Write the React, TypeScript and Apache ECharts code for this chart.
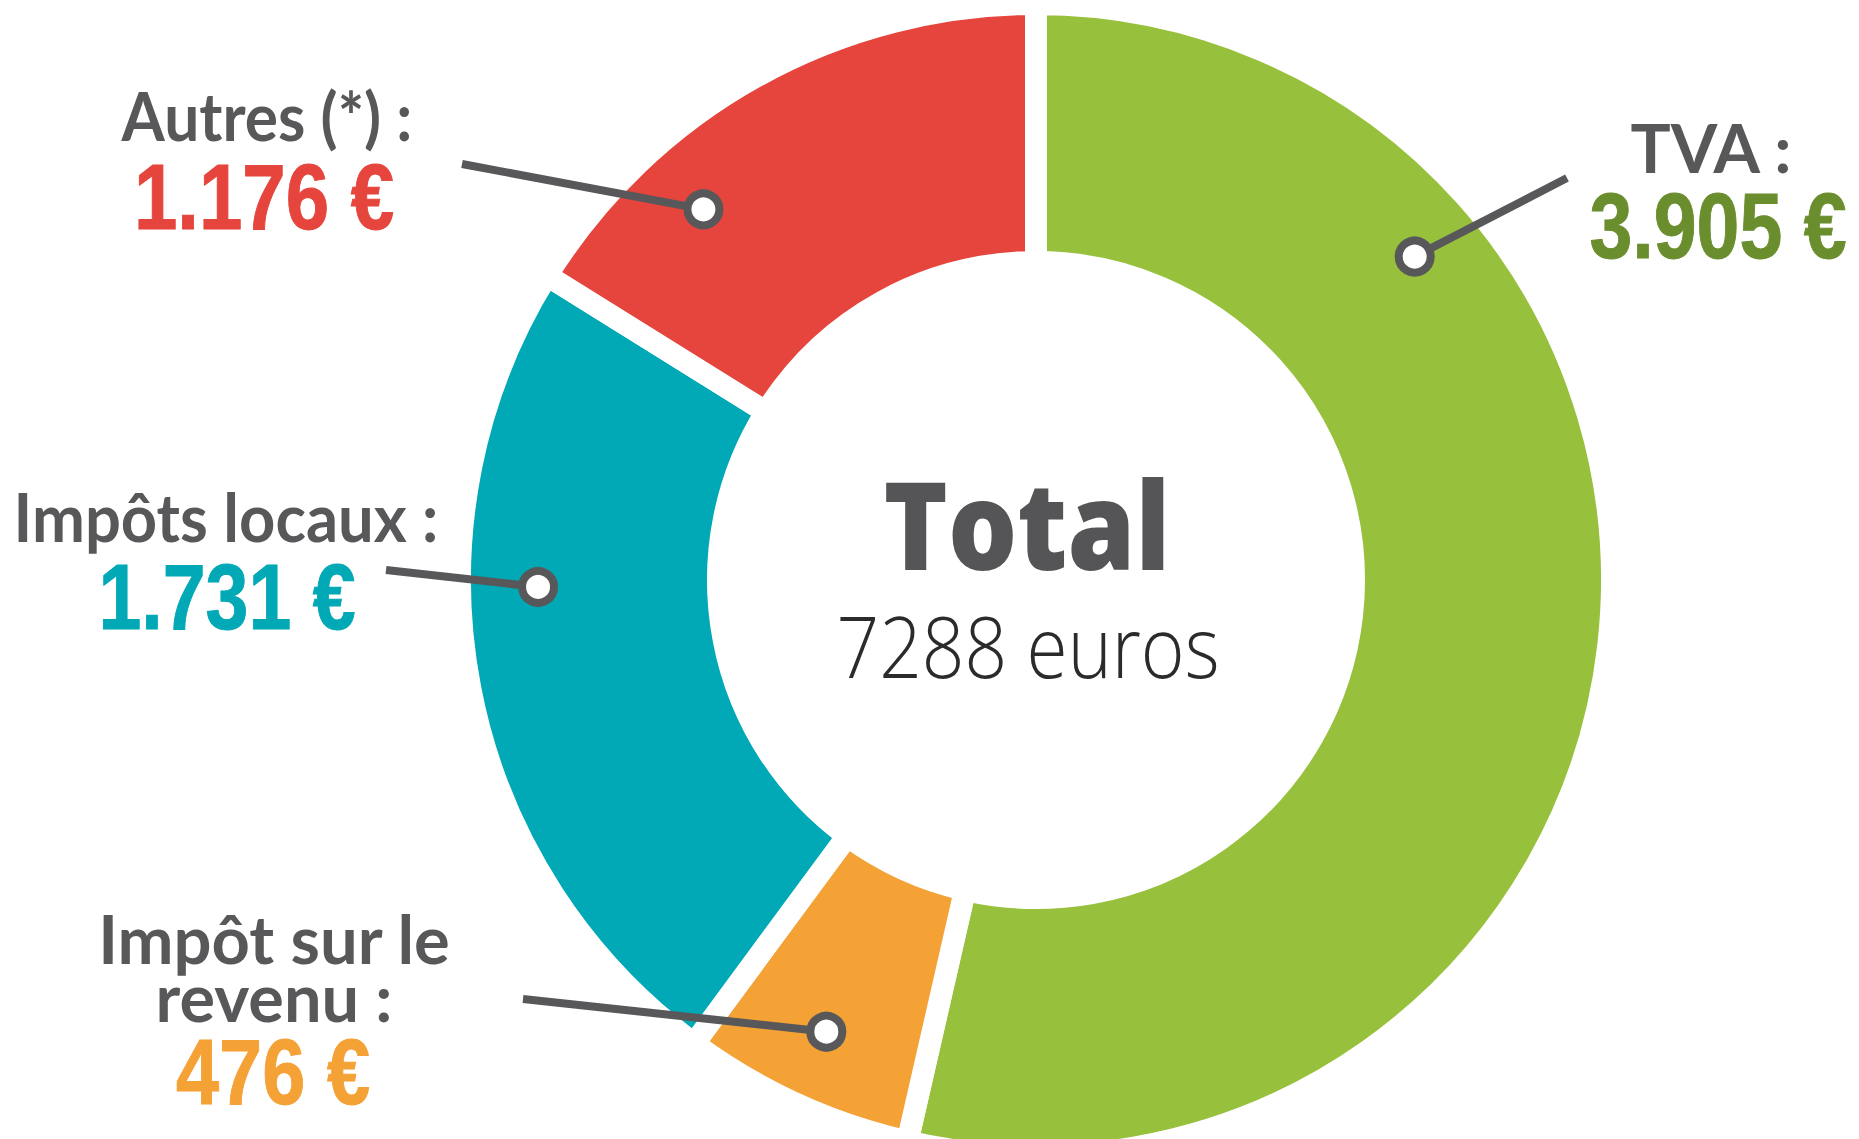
import React, { useEffect, useRef } from "react";
import * as echarts from "echarts";

// ---- data ----
const categories = ["TVA", "Impôt sur le revenu", "Impôts locaux", "Autres (*)"];
const values = [3905, 476, 1731, 1176];
const labelTexts = [["TVA :"], ["Impôt sur le", "revenu :"], ["Impôts locaux :"], ["Autres (*) :"]];
const valueTexts = ["3.905 €", "476 €", "1.731 €", "1.176 €"];
const totalTitle = "Total";
const totalUnit = "euros";

// ---- styles ----
const sliceColors = ["#97c03c", "#f4a136", "#01a8b5", "#e5453d"];
const valueColors = ["#6a8d2d", "#f4a136", "#01a8b5", "#e5453d"];
const GRAY = "#58585a";

// ---- layout ----
const CX = 1036;
const CY = 580;
const R_IN = 318;
const R_OUT = 576;
const GAP = 22;
const MARKER_R = 498;
const markerAngles = [49.5, 204.9, 269.2, 318.1];
const lineEnds = [[1567, 178], [523, 999], [386, 570], [462, 164]];
const labelCx = [1711, 274, 226, 267];
const labelBaselines = [[173], [964, 1022], [542], [141]];
const labelWidths = [[163], [353, 237], [425], [291]];
const valueCx = [1718, 273, 227, 264];
const valueBaselines = [258, 1104, 629, 229];
const valueWidths = [258, 195, 258, 261];

type Font = { family: string; weight: number; size: number; central: number; stroke?: number };
const LABEL_FONT: Font = { family: "Lato, 'Open Sans'", weight: 700, size: 66, central: 0.387 };
const VALUE_FONT: Font = {
  family: "'Liberation Sans Narrow', 'Liberation Sans'",
  weight: 700,
  size: 92,
  central: 0.347,
  stroke: 1,
};

let ctx: CanvasRenderingContext2D | null = null;
function measure(text: string, f: Font) {
  if (!ctx) ctx = document.createElement("canvas").getContext("2d");
  ctx!.font = `${f.weight} ${f.size}px ${f.family}`;
  return ctx!.measureText(text).width;
}

function textEl(text: string, cx: number, baseline: number, width: number | null, f: Font, fill: string) {
  const w = measure(text, f) + (f.stroke || 0);
  const sx = width ? width / w : 1;
  const style: any = {
    text,
    fill,
    fontFamily: f.family,
    fontWeight: f.weight,
    fontSize: f.size,
    align: "center",
    textAlign: "center",
    verticalAlign: "middle",
    textVerticalAlign: "middle",
  };
  if (f.stroke) {
    style.stroke = fill;
    style.lineWidth = f.stroke;
  }
  return {
    type: "text",
    x: cx,
    y: baseline - f.central * f.size,
    scaleX: sx,
    z: 20,
    style,
  };
}

export default function App() {
  const ref = useRef<HTMLDivElement>(null);
  useEffect(() => {
    let chart: echarts.ECharts | null = null;
    let cancelled = false;
    const fontsReady = (document as any).fonts
      ? Promise.all([
          (document as any).fonts.load("700 66px Lato"),
          (document as any).fonts.load("800 122px 'Open Sans'"),
          (document as any).fonts.load("300 84px 'Open Sans'"),
          (document as any).fonts.load("700 92px 'Liberation Sans Narrow'"),
          (document as any).fonts.load("700 92px 'Liberation Sans'"),
        ]).catch(() => null)
      : Promise.resolve(null);
    fontsReady.then(() => {
      if (cancelled || !ref.current) return;
      chart = echarts.init(ref.current, undefined, { renderer: "svg" });
      const total = values.reduce((a, b) => a + b, 0);
      const graphics: any[] = [];
      for (let i = 0; i < values.length; i++) {
        const a = (markerAngles[i] * Math.PI) / 180;
        const mx = CX + MARKER_R * Math.sin(a);
        const my = CY - MARKER_R * Math.cos(a);
        graphics.push({
          type: "line",
          z: 10,
          shape: { x1: lineEnds[i][0], y1: lineEnds[i][1], x2: mx, y2: my },
          style: { stroke: GRAY, lineWidth: 8, lineCap: "butt" },
        });
        graphics.push({
          type: "circle",
          z: 11,
          shape: { cx: mx, cy: my, r: 16 },
          style: { fill: "#ffffff", stroke: GRAY, lineWidth: 8 },
        });
        labelTexts[i].forEach((t, j) => {
          graphics.push(textEl(t, labelCx[i], labelBaselines[i][j], labelWidths[i][j], LABEL_FONT, GRAY));
        });
        graphics.push(textEl(valueTexts[i], valueCx[i], valueBaselines[i], valueWidths[i], VALUE_FONT, valueColors[i]));
      }
      graphics.push(
        textEl(totalTitle, 1027, 570, 287, { family: "'Open Sans'", weight: 800, size: 122, central: 0.388 }, "#555557")
      );
      graphics.push(
        textEl(`${total} ${totalUnit}`, 1028, 678, 383, { family: "'Open Sans'", weight: 300, size: 84, central: 0.388 }, "#2b2b2b")
      );

      chart.setOption({
        animation: false,
        backgroundColor: "#ffffff",
        series: [
          {
            type: "pie",
            center: [CX, CY],
            radius: [R_IN, R_OUT],
            startAngle: 90,
            clockwise: true,
            label: { show: false },
            labelLine: { show: false },
            emphasis: { disabled: true },
            itemStyle: { borderColor: "#ffffff", borderWidth: GAP, borderJoin: "miter" },
            data: categories.map((name, i) => ({
              name,
              value: values[i],
              itemStyle: { color: sliceColors[i] },
            })),
          },
        ],
        graphic: { elements: graphics },
      });
    });
    return () => {
      cancelled = true;
      if (chart) chart.dispose();
    };
  }, []);
  return (
    <div
      ref={ref}
      style={{ position: "absolute", left: 0, top: 0, width: 1859, height: 1139, background: "#fff" }}
    />
  );
}
